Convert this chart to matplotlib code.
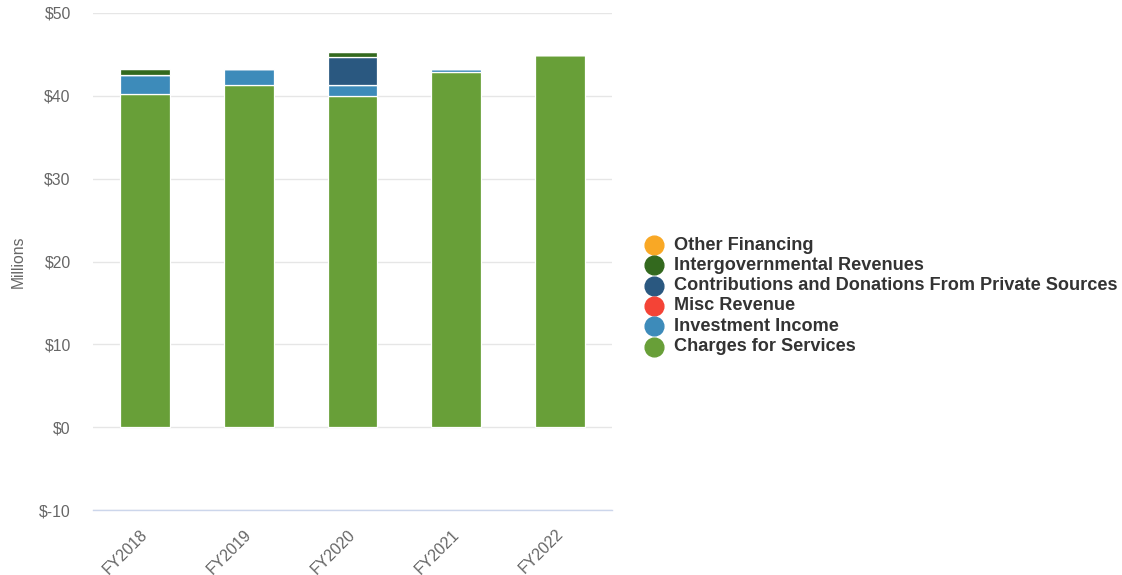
import matplotlib
matplotlib.use("Agg")
import matplotlib.pyplot as plt
from matplotlib.lines import Line2D
from matplotlib.transforms import ScaledTranslation
import numpy as np

plt.rcParams['font.family'] = ['Liberation Sans', 'DejaVu Sans']

years = ["FY2018", "FY2019", "FY2020", "FY2021", "FY2022"]

# Revenue by source, in millions of dollars (stacked bottom to top)
charges_for_services = [40.2, 41.3, 40.0, 42.85, 44.95]
investment_income = [2.35, 1.95, 1.3, 0.4, 0.0]
misc_revenue = [0.0, 0.0, 0.0, 0.0, 0.0]
contributions_private = [0.0, 0.0, 3.4, 0.0, 0.0]
intergovernmental = [0.65, 0.0, 0.55, 0.0, 0.0]
other_financing = [0.0, 0.0, 0.0, 0.0, 0.0]

series = [
    ("Charges for Services", charges_for_services, "#689f38"),
    ("Investment Income", investment_income, "#3d8bba"),
    ("Misc Revenue", misc_revenue, "#f44336"),
    ("Contributions and Donations From Private Sources", contributions_private, "#2a5880"),
    ("Intergovernmental Revenues", intergovernmental, "#33691e"),
    ("Other Financing", other_financing, "#f9a825"),
]

W, H = 1122, 575
fig = plt.figure(figsize=(W / 100, H / 100), dpi=100)
ax = fig.add_axes([93 / W, 65 / H, (612 - 93) / W, (510 - 13) / H])

x = np.arange(len(years))
bottom = np.zeros(len(years))
for name, vals, color in series:
    v = np.array(vals, dtype=float)
    ax.bar(x, v, bottom=bottom, width=0.48, color=color,
           edgecolor="white", linewidth=0.9, zorder=3)
    bottom += v

ax.set_xlim(-0.5, len(years) - 0.5)
ax.set_ylim(-10, 50)
ax.set_yticks(np.arange(-10, 51, 10))
ax.set_yticklabels([f"${t}" for t in range(-10, 51, 10)])
ax.set_xticks(x)
ax.set_xticklabels(years, rotation=45, ha="right", va="top",
                   rotation_mode="anchor")

ax.grid(axis="y", color="#e6e6e6", linewidth=1, zorder=0)
ax.grid(axis="x", visible=False)
for s in ("top", "right", "left"):
    ax.spines[s].set_visible(False)
ax.spines["bottom"].set_color("#ccd6eb")
ax.spines["bottom"].set_linewidth(1)

ax.tick_params(axis="y", length=0, pad=16, labelsize=11.3, labelcolor="#666666")
ax.tick_params(axis="x", length=0, pad=12, labelsize=11.5, labelcolor="#666666")

# nudge the slanted category labels so they end under each bar's centre
shift = ScaledTranslation(-5 / 100, 0, fig.dpi_scale_trans)
for lbl in ax.get_xticklabels():
    lbl.set_transform(lbl.get_transform() + shift)

fig.text(18 / W, 1 - 262 / H, "Millions", rotation=90, ha="center", va="center",
         fontsize=11.3, color="#666666")

# Legend, drawn top to bottom in reverse stacking order
y0 = 245
step = 20.3
for i, (name, vals, color) in enumerate(reversed(series)):
    yy = 1 - (y0 + i * step) / H
    fig.add_artist(Line2D([654 / W], [yy], marker="o", markersize=13.5,
                          color=color, linestyle="none",
                          transform=fig.transFigure))
    fig.text(674 / W, yy, name, ha="left", va="center", fontsize=13.1,
             fontweight="bold", color="#333333")

fig.savefig("out.png", dpi=100)
